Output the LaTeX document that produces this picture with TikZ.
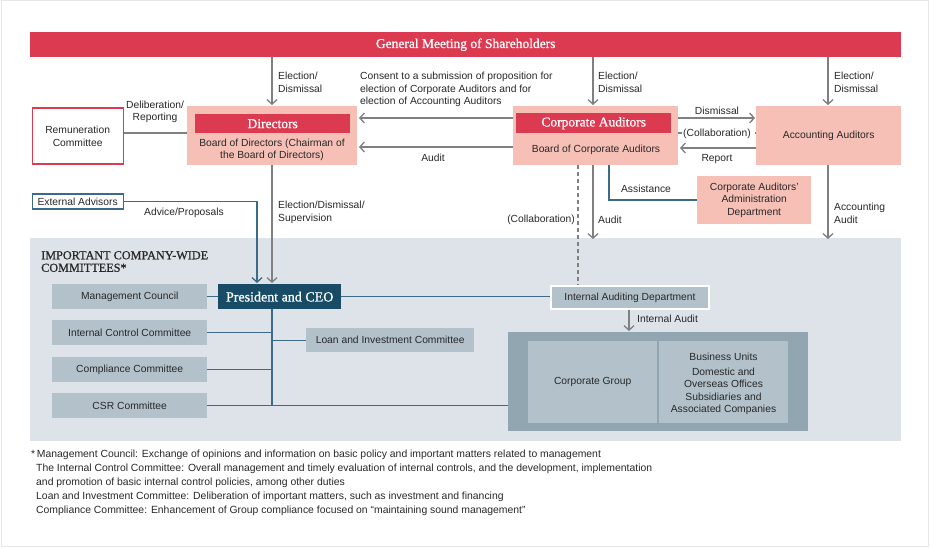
\documentclass[tikz,border=0pt]{standalone}
\usepackage{fontspec}
\setmainfont{Liberation Sans}
\newfontfamily\serifhead[FakeBold=0.8]{Liberation Serif}
\usetikzlibrary{arrows.meta,positioning}
\definecolor{banner}{RGB}{220,58,80}
\definecolor{pinkbox}{RGB}{246,192,182}
\definecolor{teal}{RGB}{24,76,102}
\definecolor{blueline}{RGB}{60,106,136}
\definecolor{grayline}{RGB}{128,128,128}
\definecolor{bgregion}{RGB}{221,227,232}
\definecolor{commbox}{RGB}{178,193,202}
\definecolor{bigbox}{RGB}{146,166,178}
\definecolor{txt}{RGB}{40,40,40}
\tikzset{
  arr/.style={draw=grayline,line width=1.3pt,-{Straight Barb[length=4.5pt,width=10pt,line width=1.3pt]}},
  gline/.style={draw=grayline,line width=1.3pt},
  bline/.style={draw=blueline,line width=1.3pt},
  barr/.style={draw=blueline,line width=1.3pt,-{Straight Barb[length=4.5pt,width=10pt,line width=1.3pt]}},
  lbl/.style={font=\fontsize{10.3}{12.5}\selectfont,text=txt,inner sep=0pt,align=left},
  lblc/.style={font=\fontsize{10.3}{12.5}\selectfont,text=txt,inner sep=0pt,align=center},
  redbar/.style={fill=banner,draw=none,text=white,font=\serifhead\fontsize{13.5}{15}\selectfont,inner sep=0pt},
  pinkb/.style={fill=pinkbox,draw=none,inner sep=0pt},
  comm/.style={fill=commbox,draw=none,inner sep=0pt,font=\fontsize{10.3}{12.5}\selectfont,text=txt,align=center},
}
\begin{document}
\begin{tikzpicture}[x=1pt,y=-1pt]
\useasboundingbox (0,0) rectangle (930,548);
\fill[white] (0,0) rectangle (930,548);
\draw[gray!18,line width=1pt] (1,1) rectangle (928,546);
% background region
\fill[bgregion] (30,238) rectangle (901,441);
% banner
\node[redbar,minimum width=871pt,minimum height=25pt,anchor=north west] (gm) at (30,32) {General Meeting of Shareholders};
% Remuneration
\node[draw=banner,line width=1.3pt,fill=white,minimum width=91pt,minimum height=56pt,lblc,anchor=north west] (rem) at (31.5,107.5) {Remuneration\\Committee};
% Directors
\node[pinkb,minimum width=170pt,minimum height=59pt,anchor=north west] (dir) at (187,106) {};
\node[redbar,minimum width=155pt,minimum height=19pt,anchor=north west] (dirt) at (195,114) {Directors};
\node[lblc] (dirs) at (272,150) {Board of Directors (Chairman of\\the Board of Directors)};
% Corporate Auditors
\node[pinkb,minimum width=165pt,minimum height=59pt,anchor=north west] (ca) at (513,106) {};
\node[redbar,minimum width=155pt,minimum height=20pt,anchor=north west] (cat) at (516,113) {Corporate Auditors};
\node[lblc] (cas) at (596,150) {Board of Corporate Auditors};
% Accounting Auditors
\node[pinkb,minimum width=145pt,minimum height=59pt,anchor=north west,lblc] (aa) at (756,106) {Accounting Auditors};
% Admin dept
\node[pinkb,minimum width=114pt,minimum height=48pt,anchor=north west,lblc] (adm) at (697,176) {Corporate Auditors'\\Administration\\Department};
% External advisors
\node[draw=blueline,line width=1.3pt,fill=white,minimum width=91pt,minimum height=15pt,anchor=north west,lblc] (ext) at (31.5,193.5) {External Advisors};
% Committees title
\node[font=\serifhead\fontsize{12.2}{12.5}\selectfont,text=txt,align=left,inner sep=0pt,anchor=north west] (ttl) at (41,251) {IMPORTANT COMPANY-WIDE\\COMMITTEES*};
% President
\node[fill=teal,text=white,font=\serifhead\fontsize{14}{16}\selectfont,minimum width=123pt,minimum height=25pt,inner sep=0pt,anchor=north west] (ceo) at (218,284) {President and CEO};
% committee boxes
\node[comm,minimum width=155pt,minimum height=25pt,anchor=north west] (mc) at (52,284) {Management Council};
\node[comm,minimum width=155pt,minimum height=25pt,anchor=north west] (icc) at (52,320) {Internal Control Committee};
\node[comm,minimum width=155pt,minimum height=25pt,anchor=north west] (cc) at (52,357) {Compliance Committee};
\node[comm,minimum width=155pt,minimum height=25pt,anchor=north west] (csr) at (52,393) {CSR Committee};
\node[comm,minimum width=168pt,minimum height=24pt,anchor=north west] (lic) at (306,328) {Loan and Investment Committee};
\node[comm,draw=white,line width=2pt,minimum width=158pt,minimum height=23pt,anchor=north west] (iad) at (550,285) {Internal Auditing Department};
% corporate group
\node[fill=bigbox,minimum width=300pt,minimum height=99pt,inner sep=0pt,anchor=north west] (grp) at (508,332) {};
\node[comm,minimum width=129pt,minimum height=82pt,anchor=north west] (cg) at (528,341) {Corporate Group};
\node[comm,minimum width=129pt,minimum height=82pt,anchor=north west] (bu) at (659,341) {};
\node[lblc] (bu1) at (723.5,357) {Business Units};
\node[lblc] (bu2) at (723.5,378) {Domestic and\\Overseas Offices};
\node[lblc] (bu3) at (723.5,404) {Subsidiaries and\\Associated Companies};
% coordinates
\coordinate (gmD) at (272,57);
\coordinate (gmC) at (593,57);
\coordinate (gmA) at (828,57);
\coordinate (trunk) at (272,309);
\coordinate (trunkend) at (272,405);
% arrows from GM
\draw[arr] (gmD) -- (272,105);
\draw[arr] (gmC) -- (593,105);
\draw[arr] (gmA) -- (828,105);
\node[lbl,anchor=north west] (l1) at (278,72) {Election/\\Dismissal};
\node[lbl,anchor=north west] (l2) at (598,72) {Election/\\Dismissal};
\node[lbl,anchor=north west] (l3) at (834,72) {Election/\\Dismissal};
\node[lbl,anchor=north west] (l4) at (360,72) {Consent to a submission of proposition for\\election of Corporate Auditors and for\\election of Accounting Auditors};
% CA -> Directors
\draw[arr] (ca.west |- 0,118) -- (359,118);
\draw[arr] (ca.west |- 0,147) -- (359,147);
\node[lblc] (l5) at (433,158) {Audit};
% Remuneration line
\draw[gline] (rem.east |- 0,133) -- (dir.west |- 0,133);
\node[lblc] (l6) at (155,112) {Deliberation/\\Reporting};
% CA <-> AA
\draw[arr] (ca.east |- 0,118) -- (755,118);
\node[lblc] (l7) at (717,111) {Dismissal};
\draw[gline,dash pattern=on 4pt off 3pt] (ca.east |- 0,133) -- (aa.west |- 0,133);
\node[lblc,fill=white,inner xsep=1pt] (l8) at (717,134) {(Collaboration)};
\draw[arr] (aa.west |- 0,148) -- (680,148);
\node[lblc] (l9) at (717,159) {Report};
% Assistance
\draw[bline] (609,165) |- (adm.west |- 0,200);
\node[lblc] (l10) at (646,189) {Assistance};
% Dashed collaboration to IAD
\draw[gline,dash pattern=on 4pt off 3pt] (578,165) -- (iad.north -| 578,0);
\node[lbl,anchor=east] (l11) at (575,220) {(Collaboration)};
% Audit
\draw[arr] (593,165) -- (593,239);
\node[lbl,anchor=west] (l12) at (598,220) {Audit};
\draw[arr] (828,165) -- (828,239);
\node[lbl,anchor=north west] (l13) at (834,203) {Accounting\\Audit};
% Directors -> CEO
\draw[arr] (272,165) -- (272,283);
\node[lbl,anchor=north west] (l14) at (278,201) {Election/Dismissal/\\Supervision};
% External -> CEO
\draw[barr] (ext.east) -| (257,283);
\node[lblc] (l15) at (184,213) {Advice/Proposals};
% CEO connections
\draw[bline] (mc.east) -- (mc.east -| ceo.west);
\draw[bline] (ceo.east) -- (ceo.east -| iad.west);
\draw[bline] (trunk) -- (trunkend);
\draw[bline] (icc.east) -- (icc.east -| trunk);
\draw[bline] (cc.east) -- (cc.east -| trunk);
\draw[bline] (csr.east) -- (csr.east -| grp.west);
\draw[bline] (lic.west -| trunk) -- (lic.west);
% Internal audit
\draw[arr] (629,310) -- (629,331);
\node[lbl,anchor=west] (l16) at (637,319) {Internal Audit};
% footnotes
\node[font=\fontsize{10.4}{14}\selectfont,text=txt,align=left,inner sep=0pt,anchor=north west] (fn) at (31,450) {*\,Management Council: Exchange of opinions and information on basic policy and important matters related to management\\
\hspace*{5pt}The Internal Control Committee: Overall management and timely evaluation of internal controls, and the development, implementation\\
\hspace*{5pt}and promotion of basic internal control policies, among other duties\\
\hspace*{5pt}Loan and Investment Committee: Deliberation of important matters, such as investment and financing\\
\hspace*{5pt}Compliance Committee: Enhancement of Group compliance focused on ``maintaining sound management''};
\end{tikzpicture}
\end{document}
